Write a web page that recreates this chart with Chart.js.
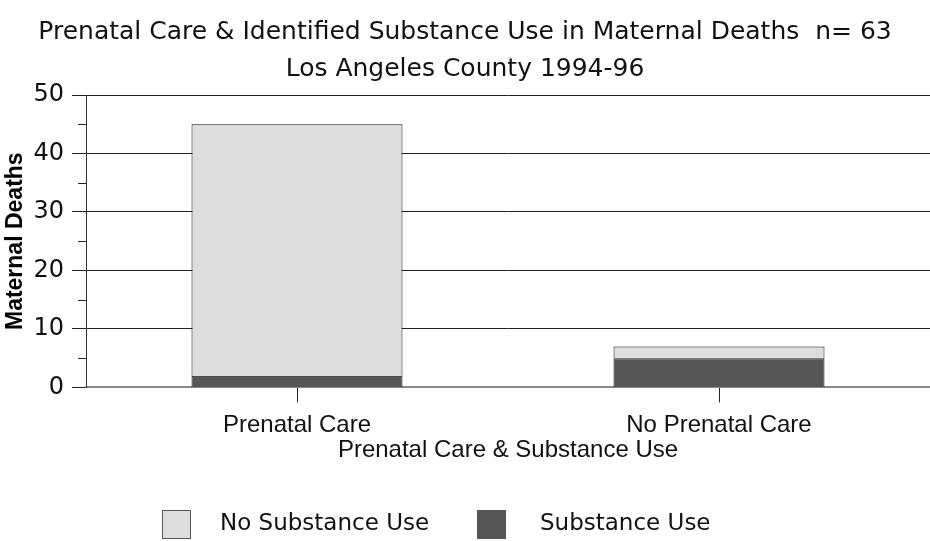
<!DOCTYPE html>
<html>
<head>
<meta charset="utf-8">
<script src="https://cdn.jsdelivr.net/npm/chart.js@4/dist/chart.umd.min.js"></script>
<style>
html,body{margin:0;padding:0;background:#fff;}
#wrap{width:930px;height:541px;position:relative;}
</style>
</head>
<body>
<div id="wrap"><canvas id="c" width="930" height="541"></canvas></div>
<script>
const categories = ["Prenatal Care", "No Prenatal Care"];
const substanceUse = [2, 5];
const noSubstanceUse = [43, 2];
const yTicks = [0, 10, 20, 30, 40, 50];
const titleLines = ["Prenatal Care & Identified Substance Use in Maternal Deaths  n= 63", "Los Angeles County 1994-96"];
const legendOrder = [1, 0];

const minorTicks = {
  id: 'minorTicks',
  afterDraw(chart) {
    const ctx = chart.ctx, y = chart.scales.y, x0 = chart.chartArea.left;
    ctx.save();
    ctx.strokeStyle = '#222';
    ctx.lineWidth = 1;
    for (let v = 5; v < 50; v += 10) {
      const py = Math.round(y.getPixelForValue(v)) + 0.5;
      ctx.beginPath(); ctx.moveTo(x0 - 8, py); ctx.lineTo(x0, py); ctx.stroke();
    }
    ctx.restore();
  }
};

const customLegend = {
  id: 'customLegend',
  afterDraw(chart) {
    const ctx = chart.ctx;
    const spots = [{bx: 162, tx: 220}, {bx: 477, tx: 540}];
    ctx.save();
    ctx.font = '23px "DejaVu Sans"';
    ctx.textBaseline = 'middle';
    legendOrder.forEach((di, i) => {
      const ds = chart.data.datasets[di];
      const s = spots[i];
      ctx.fillStyle = ds.backgroundColor;
      ctx.fillRect(s.bx, 510, 28, 28);
      ctx.strokeStyle = '#555';
      ctx.lineWidth = 1;
      ctx.strokeRect(s.bx + 0.5, 510.5, 28, 28);
      ctx.fillStyle = '#111';
      ctx.fillText(ds.label, s.tx, 524);
    });
    ctx.restore();
  }
};

new Chart(document.getElementById('c'), {
  type: 'bar',
  data: {
    labels: categories,
    datasets: [
      {label: 'Substance Use', data: substanceUse, backgroundColor: '#555555', borderColor: '#111', borderWidth: 1, barPercentage: 0.5, categoryPercentage: 1.0},
      {label: 'No Substance Use', data: noSubstanceUse, backgroundColor: '#dddddd', borderColor: '#111', borderWidth: 1, barPercentage: 0.5, categoryPercentage: 1.0}
    ]
  },
  options: {
    responsive: false,
    animation: false,
    layout: {padding: {left: 0, right: 0, top: 0, bottom: 76}},
    plugins: {
      legend: {display: false},
      tooltip: {enabled: false},
      title: {
        display: true,
        text: titleLines,
        color: '#111',
        font: {family: '"DejaVu Sans"', size: 25, weight: 'normal', lineHeight: 1.48},
        padding: {top: 14, bottom: 7}
      }
    },
    scales: {
      x: {
        stacked: true,
        offset: true,
        grid: {display: true, drawOnChartArea: false, offset: false, tickLength: 15, color: '#222', tickColor: '#222'},
        border: {display: true, color: '#888', width: 2},
        ticks: {color: '#111', font: {family: '"Liberation Sans"', size: 24}, padding: 9, maxRotation: 0},
        title: {display: true, text: 'Prenatal Care & Substance Use', color: '#111', font: {family: '"Liberation Sans"', size: 24}, padding: {top: -13, bottom: 0}}
      },
      y: {
        stacked: true,
        min: 0, max: 50,
        afterBuildTicks(scale) { scale.ticks = yTicks.map(v => ({value: v})); },
        afterFit(scale) { scale.width = 86; },
        grid: {color: '#222', tickColor: '#222', tickLength: 14, lineWidth: 1},
        border: {display: true, color: '#333', width: 1},
        ticks: {color: '#111', font: {family: '"DejaVu Sans"', size: 24}, padding: 8},
        title: {display: true, text: 'Maternal Deaths', color: '#000', font: {family: '"Liberation Sans"', size: 23, weight: 'bold'}, padding: {top: 2, bottom: 0}}
      }
    }
  },
  plugins: [minorTicks, customLegend]
});
</script>
</body>
</html>
